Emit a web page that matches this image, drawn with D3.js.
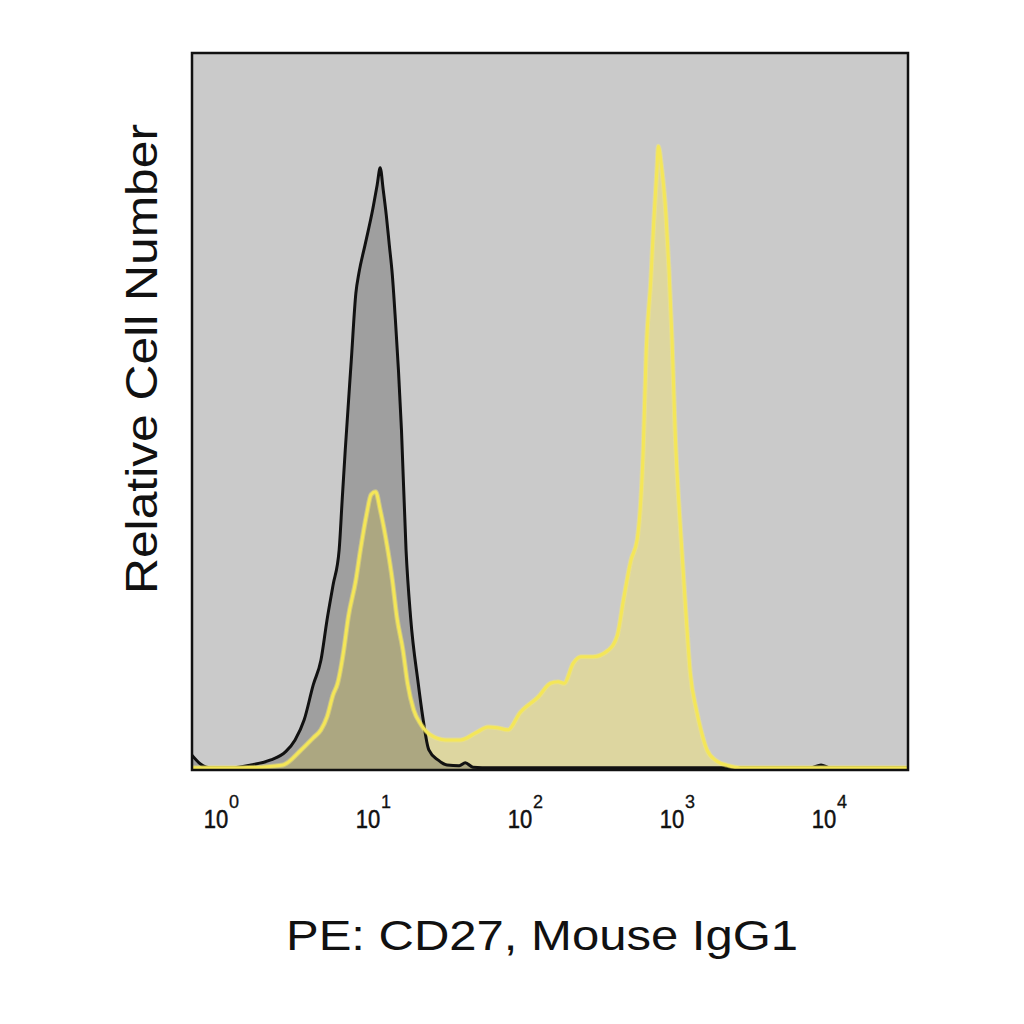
<!DOCTYPE html>
<html>
<head>
<meta charset="utf-8">
<script src="https://cdn.jsdelivr.net/npm/d3@7"></script>
<style>
  html, body { margin: 0; padding: 0; background: #ffffff; }
  svg { display: block; }
  text { font-family: Arial, "Liberation Sans", Helvetica, sans-serif; fill: #111; }
</style>
</head>
<body>
<svg id="chart" width="1024" height="1024"></svg>
<script>
// x values are log10(fluorescence), y values are relative cell number (0-100)
const isotypeLog = [-0.14,-0.08,-0.02,0.12,0.25,0.38,0.48,0.54,0.60,0.66,0.71,0.75,0.79,0.83,0.85,0.87,0.91,0.94,0.96,1.00,1.05,1.08,1.10,1.12,1.14,1.16,1.18,1.20,1.22,1.24,1.27,1.30,1.35,1.38,1.42,1.48,1.54,1.62,1.66,1.71,1.83,3.93,4.00,4.06,4.57];
const isotypeCount = [2.1,0.8,0.3,0.3,0.7,1.4,2.6,4.2,7.0,11.9,15.3,20.9,25.8,30.7,37.7,44.6,57.2,66.5,69.3,73.2,78.1,81.6,84.0,80.9,77.4,73.2,69.0,62.8,55.8,47.4,30.7,21.3,12.1,7.4,2.8,1.4,0.7,0.6,1.0,0.4,0.3,0.3,0.7,0.3,0.3];

const cd27Log = [-0.14,0.18,0.31,0.46,0.58,0.66,0.71,0.75,0.79,0.82,0.86,0.89,0.94,0.97,1.01,1.04,1.07,1.10,1.15,1.18,1.21,1.25,1.28,1.32,1.37,1.43,1.53,1.63,1.73,1.81,1.87,1.94,2.02,2.14,2.22,2.27,2.31,2.37,2.42,2.50,2.60,2.66,2.70,2.75,2.79,2.83,2.85,2.88,2.90,2.92,2.93,2.95,2.98,3.00,3.02,3.04,3.08,3.11,3.14,3.18,3.21,3.25,3.31,3.39,3.47,4.57];
const cd27Count = [0.3,0.3,0.4,0.7,2.8,4.5,5.6,7.4,10.5,12.1,16.7,21.3,26.5,30.7,35.6,38.4,38.8,36.3,30.7,26.5,21.3,16.7,12.1,8.4,6.3,4.9,4.2,4.2,5.2,6.0,5.9,5.6,8.0,10.2,12.1,12.3,12.1,14.9,15.8,15.8,16.7,18.8,23.7,29.3,32.1,44.6,58.6,68.3,76.7,83.7,87.0,84.3,77.4,69.7,60.0,47.4,32.1,22.3,13.5,8.4,5.6,2.8,1.3,0.6,0.3,0.3];

const tickExponents = [0, 1, 2, 3, 4];
const xTitle = "PE: CD27, Mouse IgG1";
const yTitle = "Relative Cell Number";

const plot = { left: 192, top: 53, right: 908, bottom: 770 };
const svg = d3.select("#chart");

const x = d3.scaleLinear()
  .domain([-0.138, 4.572])
  .range([plot.left, plot.right]);
const y = d3.scaleLinear()
  .domain([0, 100])
  .range([plot.bottom, plot.top]);

const isotype = isotypeLog.map((v, i) => ({ x: v, y: isotypeCount[i] }));
const cd27 = cd27Log.map((v, i) => ({ x: v, y: cd27Count[i] }));

// background
svg.append("rect")
  .attr("x", plot.left).attr("y", plot.top)
  .attr("width", plot.right - plot.left).attr("height", plot.bottom - plot.top)
  .attr("fill", "#cacaca");

svg.append("clipPath").attr("id", "clip")
  .append("rect")
  .attr("x", plot.left).attr("y", plot.top)
  .attr("width", plot.right - plot.left).attr("height", plot.bottom - plot.top);

const g = svg.append("g").attr("clip-path", "url(#clip)");

const area = d3.area().curve(d3.curveMonotoneX)
  .x(d => x(d.x)).y0(y(0)).y1(d => y(d.y));
const line = d3.line().curve(d3.curveMonotoneX)
  .x(d => x(d.x)).y(d => y(d.y));

// CD27 fill (opaque pale yellow)
g.append("path").datum(cd27).attr("d", area)
  .attr("fill", "#ddd6a0");
// isotype fill (translucent dark)
g.append("path").datum(isotype).attr("d", area)
  .attr("fill", "rgb(60,60,58)").attr("fill-opacity", 0.3);

// outlines
g.append("path").datum(isotype).attr("d", line)
  .attr("fill", "none").attr("stroke", "#111").attr("stroke-width", 3)
  .attr("stroke-linejoin", "round");
g.append("path").datum(cd27).attr("d", line)
  .attr("fill", "none").attr("stroke", "#f7ec72").attr("stroke-width", 5)
  .attr("stroke-opacity", 0.45).attr("stroke-linejoin", "round");
g.append("path").datum(cd27).attr("d", line)
  .attr("fill", "none").attr("stroke", "#f4e658").attr("stroke-width", 3)
  .attr("stroke-linejoin", "round");

// frame
svg.append("rect")
  .attr("x", plot.left).attr("y", plot.top)
  .attr("width", plot.right - plot.left).attr("height", plot.bottom - plot.top)
  .attr("fill", "none").attr("stroke", "#111").attr("stroke-width", 2.5);

// tick labels 10^k
const ticks = svg.append("g");
tickExponents.forEach(k => {
  const tx = x(k) + 3;
  ticks.append("text")
    .attr("x", tx).attr("y", 828)
    .attr("text-anchor", "middle")
    .attr("font-size", 25)
    .attr("stroke", "#111").attr("stroke-width", 0.5)
    .attr("transform", `translate(${tx},0) scale(0.88,1) translate(${-tx},0)`)
    .text("10");
  ticks.append("text")
    .attr("x", tx + 13).attr("y", 808)
    .attr("text-anchor", "start")
    .attr("font-size", 18)
    .attr("stroke", "#111").attr("stroke-width", 0.3)
    .text(String(k));
});

// axis titles
svg.append("text")
  .attr("x", 542).attr("y", 950)
  .attr("text-anchor", "middle")
  .attr("font-size", 42)
  .attr("textLength", 512)
  .attr("lengthAdjust", "spacingAndGlyphs")
  .text(xTitle);

svg.append("text")
  .attr("transform", "translate(157,359) rotate(-90)")
  .attr("text-anchor", "middle")
  .attr("font-size", 44)
  .attr("textLength", 470)
  .attr("lengthAdjust", "spacingAndGlyphs")
  .text(yTitle);
</script>
</body>
</html>
